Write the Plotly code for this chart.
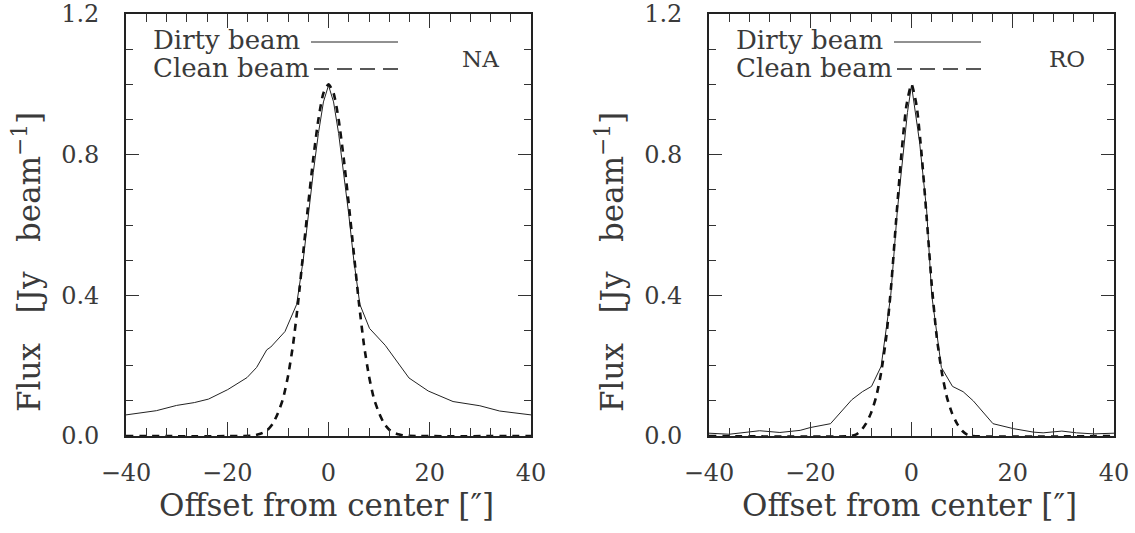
import plotly.graph_objects as go

W, H = 1135, 533

# ---------------- data ----------------
na_dirty_x = [-40, -34, -30, -26.5, -23.7, -19.9, -16.1, -14.2, -12.2, -11.4, -8.6, -6.3, -5, -4, -3, -2, -1, 0,
              1, 2, 3, 4, 5, 6.2, 8.1, 11.2, 15.9, 19.7, 24.6, 29.9, 33.8, 40]
na_dirty_y = [0.060, 0.072, 0.087, 0.095, 0.105, 0.132, 0.166, 0.195, 0.245, 0.253, 0.297, 0.374, 0.50, 0.63, 0.75,
              0.86, 0.95, 0.997, 0.95, 0.86, 0.75, 0.63, 0.50, 0.374, 0.306, 0.258, 0.165, 0.128, 0.098, 0.086,
              0.071, 0.060]

na_clean_x = [-40, -15, -14, -13, -12, -11, -10, -9, -8, -7, -6, -5, -4, -3, -2, -1, 0,
              1, 2, 3, 4, 5, 6, 7, 8, 9, 10, 11, 12, 13, 14, 15, 40]
na_clean_y = [0.0, 0.001, 0.004, 0.009, 0.018, 0.035, 0.065, 0.105, 0.17, 0.26, 0.38, 0.52, 0.66, 0.79, 0.90,
              0.975, 1.0, 0.975, 0.90, 0.79, 0.66, 0.52, 0.38, 0.26, 0.17, 0.105, 0.065, 0.035, 0.018, 0.009,
              0.004, 0.001, 0.0]

ro_dirty_x = [-40, -36, -30, -26, -22, -20, -16, -11.8, -9.7, -7.9, -6, -4.1, -2.8, -1.7, -0.8, 0,
              0.8, 1.6, 3.0, 4.0, 5.9, 8.1, 10.2, 12.2, 16.1, 20.1, 24.1, 26, 29.7, 32.6, 36, 40]
ro_dirty_y = [0.008, 0.005, 0.015, 0.010, 0.016, 0.024, 0.035, 0.103, 0.126, 0.141, 0.198, 0.40, 0.641, 0.806,
              0.92, 0.997, 0.92, 0.835, 0.64, 0.40, 0.195, 0.141, 0.126, 0.100, 0.035, 0.021, 0.011, 0.009,
              0.014, 0.009, 0.006, 0.008]

ro_clean_x = [-40, -12, -11, -10, -9, -8, -7, -6, -5, -4, -3, -2, -1, 0,
              1, 2, 3, 4, 5, 6, 7, 8, 9, 10, 11, 12, 40]
ro_clean_y = [0.0, 0.0, 0.004, 0.015, 0.035, 0.065, 0.11, 0.18, 0.28, 0.43, 0.62, 0.80, 0.94, 1.0,
              0.94, 0.80, 0.62, 0.43, 0.28, 0.18, 0.11, 0.065, 0.035, 0.015, 0.004, 0.0, 0.0]

panel_labels = ["NA", "RO"]
series_names = ["Dirty beam", "Clean beam"]
x_ticks = [-40, -20, 0, 20, 40]
y_ticks = [0.0, 0.4, 0.8, 1.2]
x_title = "Offset from center [\u2033]"
y_title = "Flux\u00a0\u00a0\u00a0[Jy\u00a0\u00a0\u00a0beam<sup>\u22121</sup>]"

# ---------------- layout helpers ----------------
FONT = "DejaVu Serif"
TXT = "#3a3a3a"


def px(x):
    return x / W


def py(y):
    return 1 - y / H


panels = [  # plot-area pixel boxes (screen): left, right
    (126, 531),
    (709, 1114),
]
top, bottom = 14, 436

fig = go.Figure()

datasets = [(na_dirty_x, na_dirty_y, na_clean_x, na_clean_y),
            (ro_dirty_x, ro_dirty_y, ro_clean_x, ro_clean_y)]

for i, (dx, dy, cx, cy) in enumerate(datasets):
    xa = "x" if i == 0 else "x2"
    ya = "y" if i == 0 else "y2"
    fig.add_trace(go.Scatter(x=dx, y=dy, mode="lines", name=series_names[0], xaxis=xa, yaxis=ya,
                             line=dict(color="#222222", width=1), showlegend=False))
    fig.add_trace(go.Scatter(x=cx, y=cy, mode="lines", name=series_names[1], xaxis=xa, yaxis=ya,
                             line=dict(color="#111111", width=2.6, dash="7px,6px", shape="spline",
                                       smoothing=0.6), showlegend=False))

axis_common = dict(showline=True, linewidth=1.6, linecolor="#222222", mirror="allticks",
                   ticks="inside", tickwidth=1, tickcolor="#333333", showgrid=False, zeroline=False,
                   tickfont=dict(family=FONT, size=24, color=TXT), automargin=False,
                   ticklabeloverflow="allow")

for i, (l, r) in enumerate(panels):
    sfx = "" if i == 0 else "2"
    fig.layout["xaxis" + sfx] = dict(
        axis_common, domain=[px(l), px(r)], range=[-40, 40], tickvals=x_ticks, ticklen=14,
        minor=dict(ticks="inside", dtick=4, tick0=0, ticklen=8, tickwidth=1, tickcolor="#333333"),
        anchor="y" + sfx, ticklabelstandoff=14)
    fig.layout["yaxis" + sfx] = dict(
        axis_common, domain=[py(bottom), py(top)], range=[0, 1.2], tickvals=y_ticks, tickformat=".1f",
        ticklen=13,
        minor=dict(ticks="inside", dtick=0.1, tick0=0, ticklen=7, tickwidth=1, tickcolor="#333333"),
        anchor="x" + sfx, ticklabelstandoff=20)

    off = l - panels[0][0]
    # legend texts
    fig.add_annotation(x=px(151 + off), y=py(40), xref="paper", yref="paper", text=series_names[0],
                       showarrow=False, xanchor="left", yanchor="middle",
                       font=dict(family=FONT, size=26, color=TXT))
    fig.add_annotation(x=px(151 + off), y=py(68), xref="paper", yref="paper", text=series_names[1],
                       showarrow=False, xanchor="left", yanchor="middle",
                       font=dict(family=FONT, size=26, color=TXT))
    fig.add_shape(type="line", xref="paper", yref="paper", x0=px(311 + off), x1=px(398 + off),
                  y0=py(42), y1=py(42), line=dict(color="#222222", width=1))
    fig.add_shape(type="line", xref="paper", yref="paper", x0=px(314 + off), x1=px(398 + off),
                  y0=py(69), y1=py(69), line=dict(color="#222222", width=1.6, dash="15px,8px"))
    # panel label
    fig.add_annotation(x=px(480 + off + (4 if i else 0)), y=py(59), xref="paper", yref="paper",
                       text=panel_labels[i], showarrow=False, xanchor="center", yanchor="middle",
                       font=dict(family=FONT, size=23, color=TXT))
    # axis titles
    fig.add_annotation(x=px((l + r) / 2 - 2), y=py(505), xref="paper", yref="paper", text=x_title,
                       showarrow=False, xanchor="center", yanchor="middle",
                       font=dict(family=FONT, size=31, color=TXT))
    fig.add_annotation(x=px(27 + off), y=py(262), xref="paper", yref="paper", text=y_title,
                       showarrow=False, xanchor="center", yanchor="middle", textangle=-90,
                       font=dict(family=FONT, size=31, color=TXT))

fig.update_layout(width=W, height=H, margin=dict(l=0, r=0, t=0, b=0),
                  paper_bgcolor="white", plot_bgcolor="white", showlegend=False)

fig.write_html("out.html", config={"displayModeBar": False},
               post_script="document.body.style.margin='0';document.body.style.overflow='hidden';")
